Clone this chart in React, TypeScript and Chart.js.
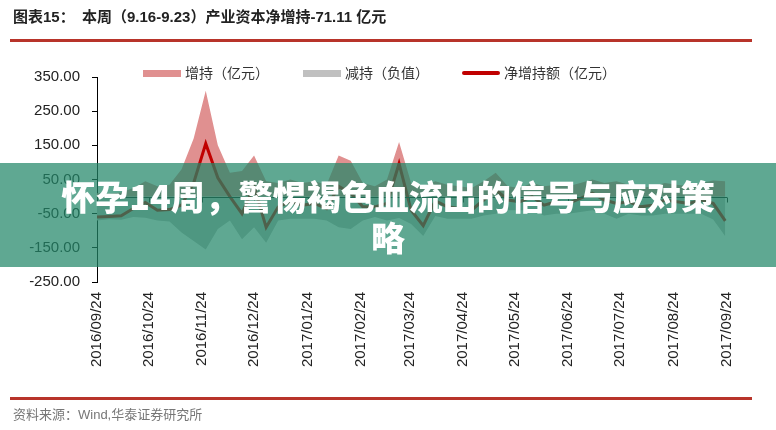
import React, { useEffect, useRef } from "react";
import { Chart, registerables } from "chart.js";

Chart.register(...registerables);

// Monthly axis tick labels
const xTickLabels = [
  "2016/09/24", "2016/10/24", "2016/11/24", "2016/12/24", "2017/01/24",
  "2017/02/24", "2017/03/24", "2017/04/24", "2017/05/24", "2017/06/24",
  "2017/07/24", "2017/08/24", "2017/09/24",
];

// Weekly series (one value per week, starting 2016/09/24), 亿元
const increase = [
  10, 8, 12, 25, 45, 30, 35, 80, 170, 310,
  150, 70, 75, 120, 45, 40, 50, 40, 45, 35,
  120, 105, 40, 30, 50, 160, 40, 30, 45, 35,
  30, 25, 45, 70, 30, 25, 40, 30, 35, 30,
  40, 50, 40, 45, 35, 25, 30, 40, 35, 30,
  40, 47, 45,
];
const decrease = [
  -70, -66, -68, -60, -62, -70, -73, -105, -130, -155,
  -95, -70, -125, -90, -135, -70, -65, -65, -65, -70,
  -90, -95, -70, -60, -70, -63, -80, -115, -57, -65,
  -65, -65, -55, -50, -40, -40, -40, -55, -50, -50,
  -45, -40, -50, -65, -50, -55, -55, -50, -50, -50,
  -50, -67, -116.11,
];
const netIncrease = [
  -60, -58, -56, -35, -17, -40, -38, -25, 40, 155,
  55, 0, -50, 30, -90, -30, -15, -25, -20, -35,
  30, 10, -30, -30, -20, 97, -40, -85, -12, -30,
  -35, -40, -10, 20, -10, -15, 0, -25, -15, -20,
  -5, 10, -10, -20, -15, -30, -25, -10, -15, -20,
  -10, -20, -71.11,
];

const yMin = -250;
const yMax = 350;
const yStep = 100;

const legendItems = [
  { label: "增持（亿元）", color: "#E09090", kind: "area" },
  { label: "减持（负值）", color: "#C0C0C0", kind: "area" },
  { label: "净增持额（亿元）", color: "#C00000", kind: "line" },
];

const parseDay = (s: string) => {
  const [y, m, d] = s.split("/").map(Number);
  return Date.UTC(y, m - 1, d) / 86400000;
};
const day0 = parseDay(xTickLabels[0]);
const tickDays = xTickLabels.map((s) => parseDay(s) - day0);
const toPts = (arr: number[]) => arr.map((v, i) => ({ x: i * 7, y: v }));

const zeroLinePlugin = {
  id: "zeroLine",
  afterDatasetsDraw(chart: any) {
    const { ctx, chartArea } = chart;
    const xs = chart.scales.x;
    const ys = chart.scales.y;
    const y0 = Math.round(ys.getPixelForValue(0)) + 0.5;
    ctx.save();
    ctx.strokeStyle = "#1a1a1a";
    ctx.lineWidth = 1;
    ctx.beginPath();
    ctx.moveTo(chartArea.left, y0);
    ctx.lineTo(xs.getPixelForValue(tickDays[tickDays.length - 1]), y0);
    tickDays.forEach((d) => {
      const px = Math.round(xs.getPixelForValue(d)) + 0.5;
      ctx.moveTo(px, y0);
      ctx.lineTo(px, y0 + 5);
    });
    ctx.stroke();
    ctx.restore();
  },
};

export default function App() {
  const canvasRef = useRef<HTMLCanvasElement | null>(null);

  useEffect(() => {
    if (!canvasRef.current) return;
    const chart = new Chart(canvasRef.current, {
      type: "line",
      data: {
        datasets: [
          {
            label: legendItems[2].label,
            data: toPts(netIncrease),
            borderColor: legendItems[2].color,
            borderWidth: 3,
            pointRadius: 0,
            fill: false,
            tension: 0,
            order: 0,
          },
          {
            label: legendItems[0].label,
            data: toPts(increase),
            borderColor: "rgba(0,0,0,0)",
            borderWidth: 0,
            backgroundColor: legendItems[0].color,
            fill: "origin",
            pointRadius: 0,
            tension: 0,
            order: 1,
          },
          {
            label: legendItems[1].label,
            data: toPts(decrease),
            borderColor: "rgba(0,0,0,0)",
            borderWidth: 0,
            backgroundColor: legendItems[1].color,
            fill: "origin",
            pointRadius: 0,
            tension: 0,
            order: 2,
          },
        ],
      },
      options: {
        responsive: false,
        animation: false,
        devicePixelRatio: 1,
        layout: { padding: { top: 77, right: 49, left: 0, bottom: 0 } },
        plugins: {
          legend: { display: false },
          tooltip: { enabled: false },
        },
        scales: {
          x: {
            type: "linear",
            min: 0,
            max: tickDays[tickDays.length - 1],
            afterBuildTicks: (s: any) => {
              s.ticks = tickDays.map((v) => ({ value: v }));
            },
            afterFit: (s: any) => {
              s.height = 148;
            },
            grid: { display: false, drawTicks: false },
            border: { display: false },
            ticks: {
              autoSkip: false,
              minRotation: 90,
              maxRotation: 90,
              padding: 10,
              color: "#222",
              font: { family: '"Liberation Sans", Arial, sans-serif', size: 15 },
              callback: (_v: any, i: number) => xTickLabels[i],
            },
          },
          y: {
            min: yMin,
            max: yMax,
            afterBuildTicks: (s: any) => {
              const t = [];
              for (let v = yMin; v <= yMax; v += yStep) t.push({ value: v });
              s.ticks = t;
            },
            afterFit: (s: any) => {
              s.width = 97;
            },
            grid: {
              drawOnChartArea: false,
              drawTicks: true,
              tickLength: 5,
              tickColor: "#000",
            },
            border: { display: true, color: "#000", width: 1 },
            ticks: {
              padding: 12,
              color: "#222",
              font: { family: '"Liberation Sans", Arial, sans-serif', size: 15 },
              callback: (v: any) => Number(v).toFixed(2),
            },
          },
        },
      },
      plugins: [zeroLinePlugin],
    } as any);
    return () => chart.destroy();
  }, []);

  const cjk = '"Liberation Sans", "Noto Sans CJK SC", sans-serif';

  return (
    <div
      style={{
        position: "fixed",
        left: 0,
        top: 0,
        width: 776,
        height: 430,
        background: "#fff",
        overflow: "hidden",
        fontFamily: cjk,
      }}
    >
      <canvas
        ref={canvasRef}
        width={776}
        height={430}
        style={{ position: "absolute", left: 0, top: 0, width: 776, height: 430 }}
      />
      {/* Title */}
      <div
        style={{
          position: "absolute",
          left: 13,
          top: 8,
          fontSize: 15,
          lineHeight: "18px",
          fontWeight: 700,
          color: "#222",
          whiteSpace: "nowrap",
        }}
      >
        图表15：
      </div>
      <div
        style={{
          position: "absolute",
          left: 82,
          top: 8,
          fontSize: 15,
          lineHeight: "18px",
          fontWeight: 700,
          color: "#222",
          whiteSpace: "nowrap",
        }}
      >
        本周（9.16-9.23）产业资本净增持-71.11 亿元
      </div>
      <div style={{ position: "absolute", left: 10, top: 39, width: 742, height: 3, background: "#B8342A" }} />
      {/* Legend */}
      {legendItems.map((it, i) => {
        const lefts = [143, 303, 462];
        const l = lefts[i];
        return (
          <React.Fragment key={it.label}>
            <div
              style={{
                position: "absolute",
                left: l,
                top: it.kind === "line" ? 71 : 70,
                width: 38,
                height: it.kind === "line" ? 4 : 7,
                background: it.color,
                borderRadius: it.kind === "line" ? 2 : 0,
              }}
            />
            <div
              style={{
                position: "absolute",
                left: l + 42,
                top: 64,
                fontSize: 14,
                lineHeight: "18px",
                color: "#333",
                whiteSpace: "nowrap",
              }}
            >
              {it.label}
            </div>
          </React.Fragment>
        );
      })}
      {/* Source */}
      <div style={{ position: "absolute", left: 10, top: 397, width: 742, height: 3, background: "#B8342A" }} />
      <div
        style={{
          position: "absolute",
          left: 13,
          top: 406,
          fontSize: 13,
          lineHeight: "18px",
          color: "#777",
          whiteSpace: "nowrap",
        }}
      >
        资料来源：Wind,华泰证券研究所
      </div>
      {/* Overlay banner */}
      <div
        style={{
          position: "absolute",
          left: 0,
          top: 163,
          width: 776,
          height: 104,
          background: "rgba(33,134,104,0.72)",
        }}
      />
      <div
        style={{
          position: "absolute",
          left: 0,
          top: 175,
          width: 776,
          textAlign: "center",
          fontSize: 34,
          lineHeight: "41px",
          fontWeight: 900,
          color: "#fff",
          fontFamily: '"Noto Sans CJK SC", sans-serif',
          whiteSpace: "nowrap",
        }}
      >
        怀孕14周，警惕褐色血流出的信号与应对策
        <br />
        略
      </div>
    </div>
  );
}
